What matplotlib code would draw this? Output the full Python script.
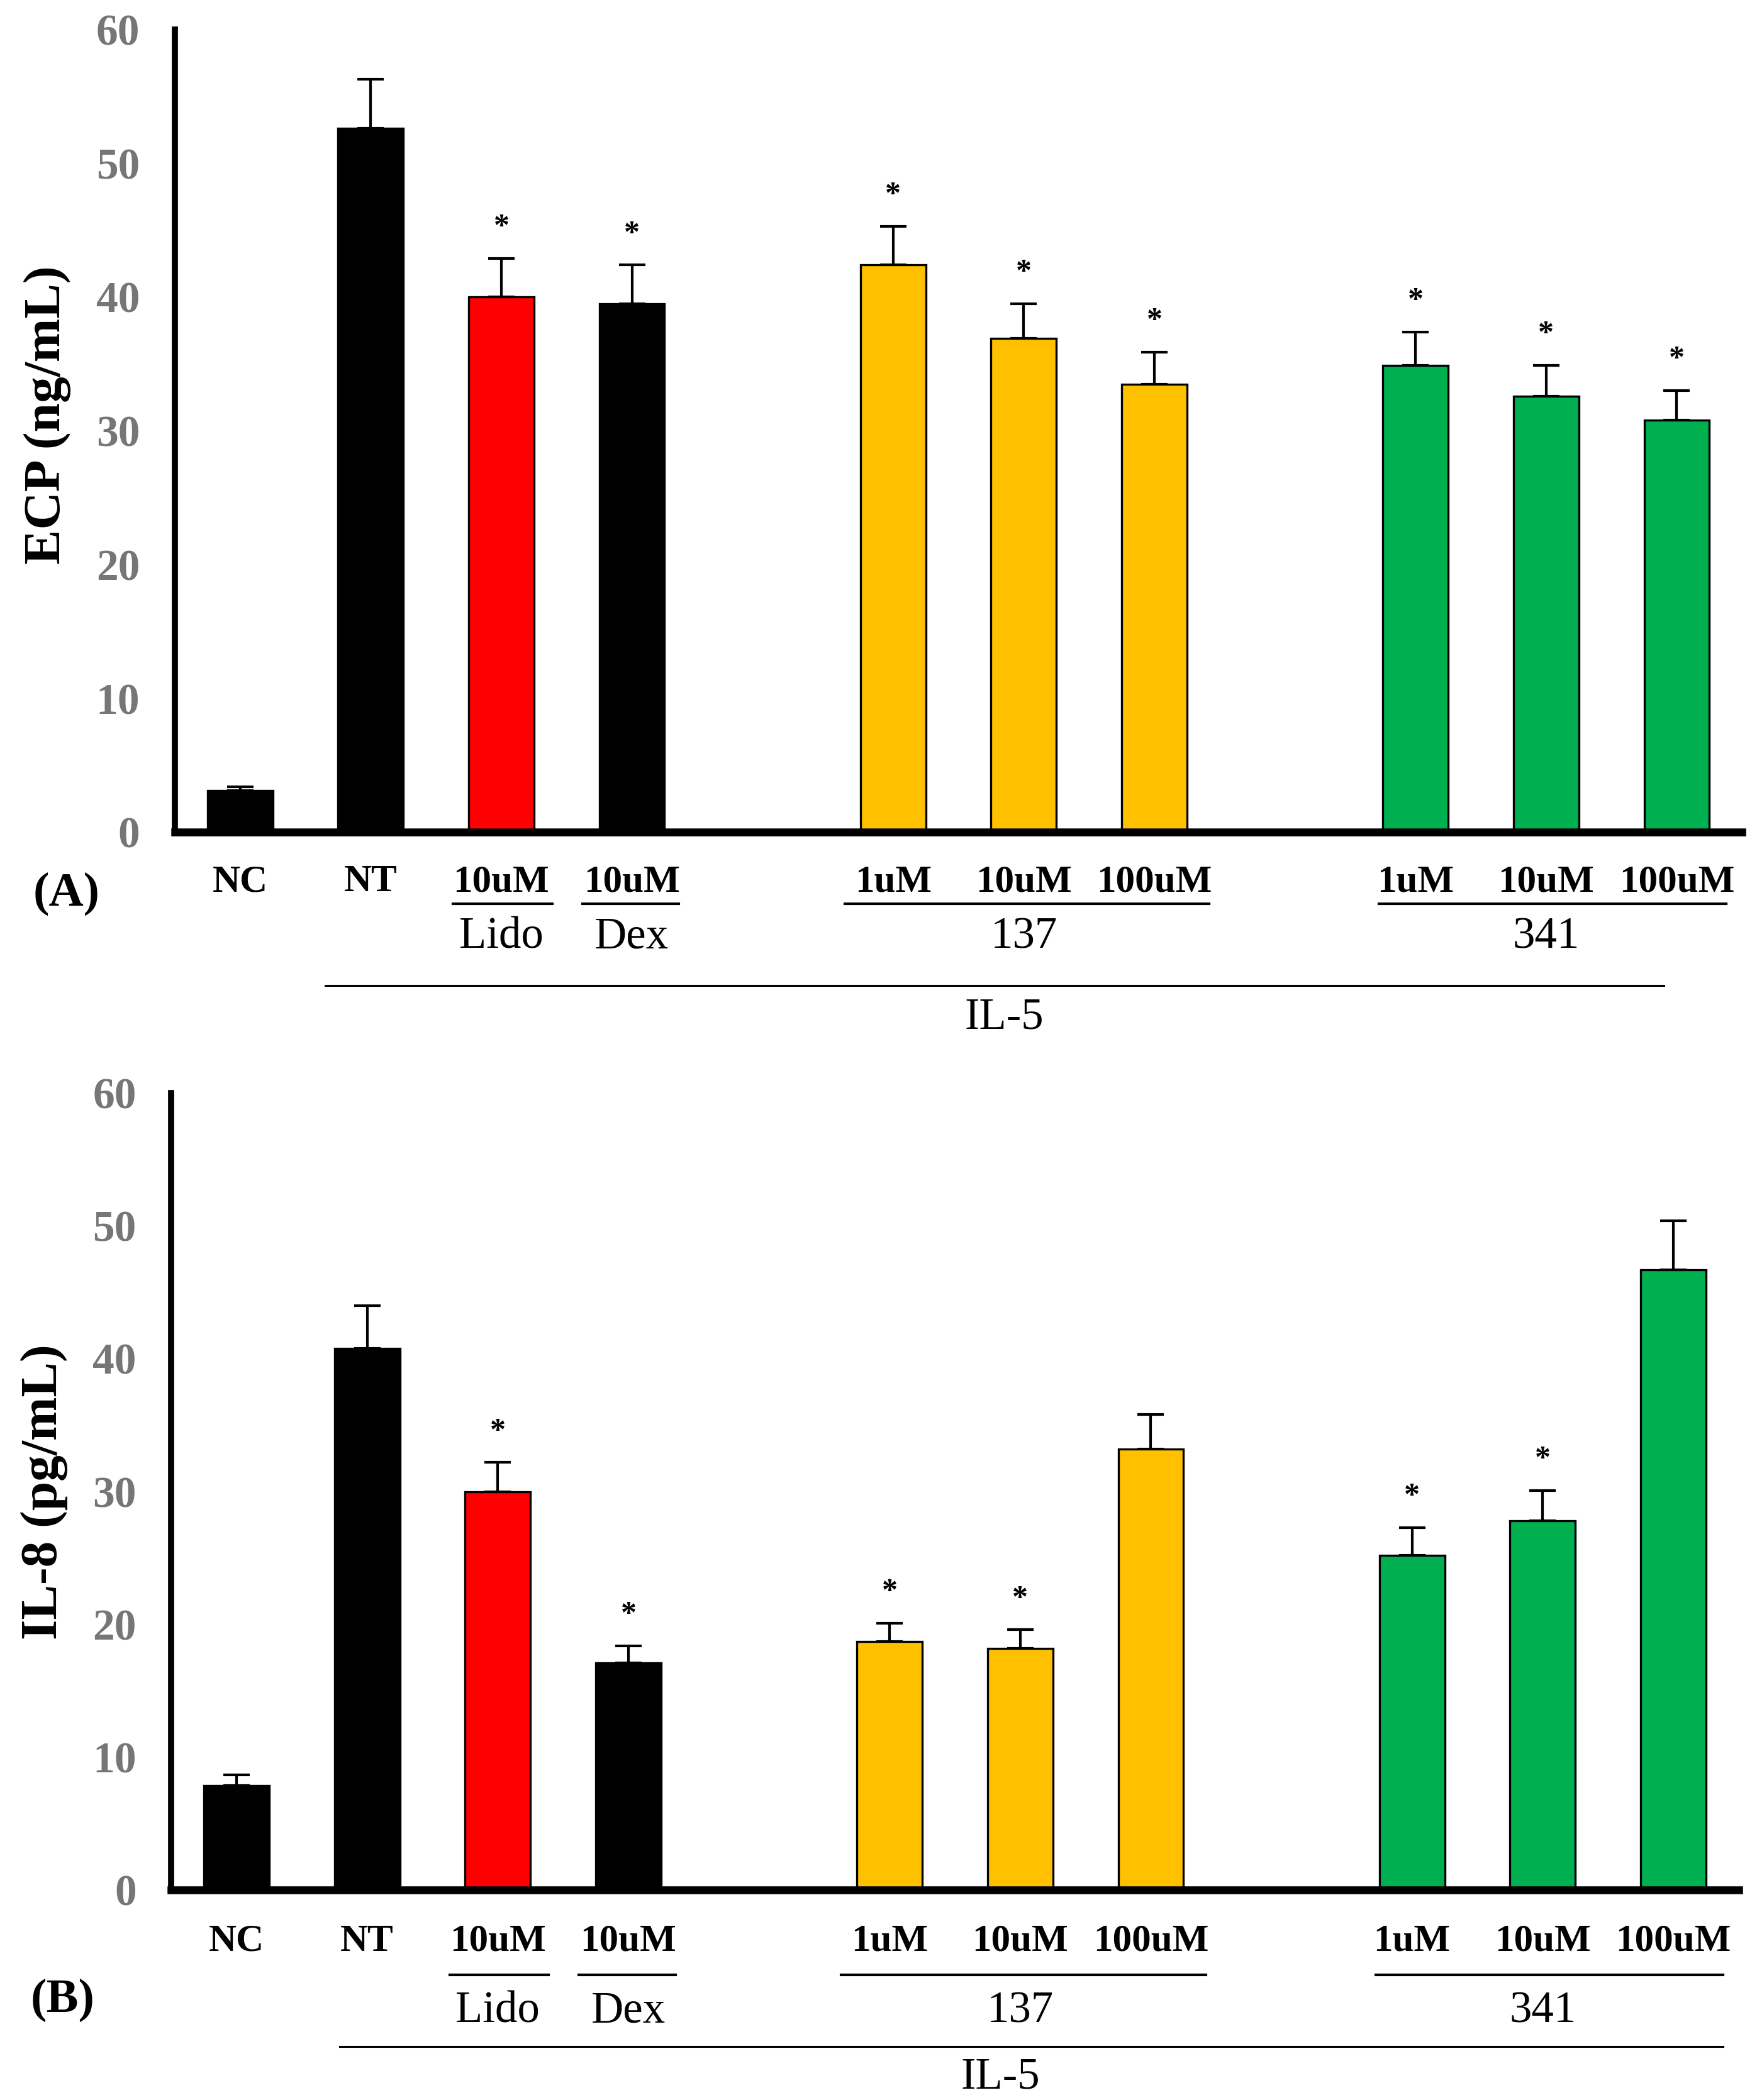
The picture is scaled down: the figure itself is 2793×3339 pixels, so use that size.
import numpy as np
import matplotlib
matplotlib.use("Agg")
import matplotlib.pyplot as plt
import matplotlib.transforms as mtransforms

plt.rcParams['font.family'] = ['Liberation Serif', 'DejaVu Serif']

# groups and bars (bars sit on slots 0-3, 5-7, 9-11)
cat_labels = ['NC', 'NT', '10uM', '10uM', '1uM', '10uM', '100uM', '1uM', '10uM', '100uM']
slots = [0, 1, 2, 3, 5, 6, 7, 9, 10, 11]
bar_colors = ['#000000', '#000000', '#FF0000', '#000000',
              '#FFC000', '#FFC000', '#FFC000',
              '#00B050', '#00B050', '#00B050']

# panel A - ECP
ecp_mean = [3.1, 52.6, 40.0, 39.5, 42.4, 36.9, 33.5, 34.9, 32.6, 30.8]
ecp_err = [0.3, 3.7, 2.9, 2.9, 2.9, 2.6, 2.4, 2.5, 2.3, 2.2]
ecp_sig = [False, False, True, True, True, True, True, True, True, True]

# panel B - IL-8
il8_mean = [7.9, 40.8, 30.0, 17.1, 18.7, 18.2, 33.2, 25.2, 27.8, 46.7]
il8_err = [0.8, 3.2, 2.2, 1.3, 1.4, 1.4, 2.6, 2.1, 2.3, 3.7]
il8_sig = [False, False, True, True, True, True, False, True, True, False]

tick_color = '#767676'


def draw_panel(ax, mean, err, sig, ylabel, letter, ys, long_line, label_y):
    ax.bar(slots, mean, width=0.5, color=bar_colors, edgecolor='black',
           linewidth=2.4, zorder=2)
    ax.errorbar(slots, mean, yerr=[np.zeros(len(err)), err], fmt='none',
                ecolor='black', elinewidth=3, capsize=15, capthick=3, zorder=1)
    for x, m, e, s in zip(slots, mean, err, sig):
        if s:
            ax.text(x, m + e + 2.3, '*', ha='center', va='center',
                    fontsize=36, fontweight='bold')

    ax.set_xlim(-0.5, 11.5)
    ax.set_ylim(0, 60)
    ax.set_yticks([0, 10, 20, 30, 40, 50, 60])
    ax.set_xticks([])
    for side in ['top', 'right']:
        ax.spines[side].set_visible(False)
    ax.spines['left'].set_linewidth(7)
    ax.spines['bottom'].set_linewidth(9)
    ax.tick_params(axis='y', length=0, pad=40, labelsize=50, labelcolor=tick_color)
    for t in ax.get_yticklabels():
        t.set_fontweight('bold')
    ax.set_ylabel(ylabel, fontsize=60, fontweight='bold')
    ax.yaxis.set_label_coords(-0.066, label_y)

    trans = mtransforms.blended_transform_factory(ax.transData, ax.transAxes)
    y_cat, y_ul, y_grp, y_long, y_il5, y_let = ys
    for x, lab in zip(slots, cat_labels):
        ax.text(x, y_cat, lab, transform=trans, ha='center', va='center',
                fontsize=44, fontweight='bold')
    # underlines under the concentrations
    for x0, x1 in [(1.63, 2.39), (2.62, 3.36), (4.63, 7.42), (8.72, 11.38)]:
        ax.plot([x0, x1], [y_ul, y_ul], transform=trans, color='black',
                lw=3, clip_on=False)
    for x, lab in [(2.0, 'Lido'), (3.0, 'Dex'), (6.0, '137'), (10.0, '341')]:
        ax.text(x, y_grp, lab, transform=trans, ha='center', va='center',
                fontsize=51)
    ax.plot(long_line, [y_long, y_long], transform=trans, color='black',
            lw=2.2, clip_on=False)
    ax.text(5.85, y_il5, 'IL-5', transform=trans, ha='center', va='center',
            fontsize=51)
    ax.text(-1.33, y_let, letter, transform=trans, ha='center', va='center',
            fontsize=55, fontweight='bold')


fig = plt.figure(figsize=(27.93, 33.39), dpi=100)
axA = fig.add_axes([0.0995, 0.6037, 0.892, 0.3822])
axB = fig.add_axes([0.0975, 0.0999, 0.892, 0.3796])

draw_panel(axA, ecp_mean, ecp_err, ecp_sig, 'ECP (ng/mL)', '(A)',
           (-0.062, -0.089, -0.131, -0.191, -0.231, -0.077), [0.65, 10.9], 0.52)
draw_panel(axB, il8_mean, il8_err, il8_sig, 'IL-8 (pg/mL)', '(B)',
           (-0.064, -0.106, -0.152, -0.196, -0.235, -0.138), [0.79, 11.38], 0.5)

fig.savefig('out.png', dpi=100)
